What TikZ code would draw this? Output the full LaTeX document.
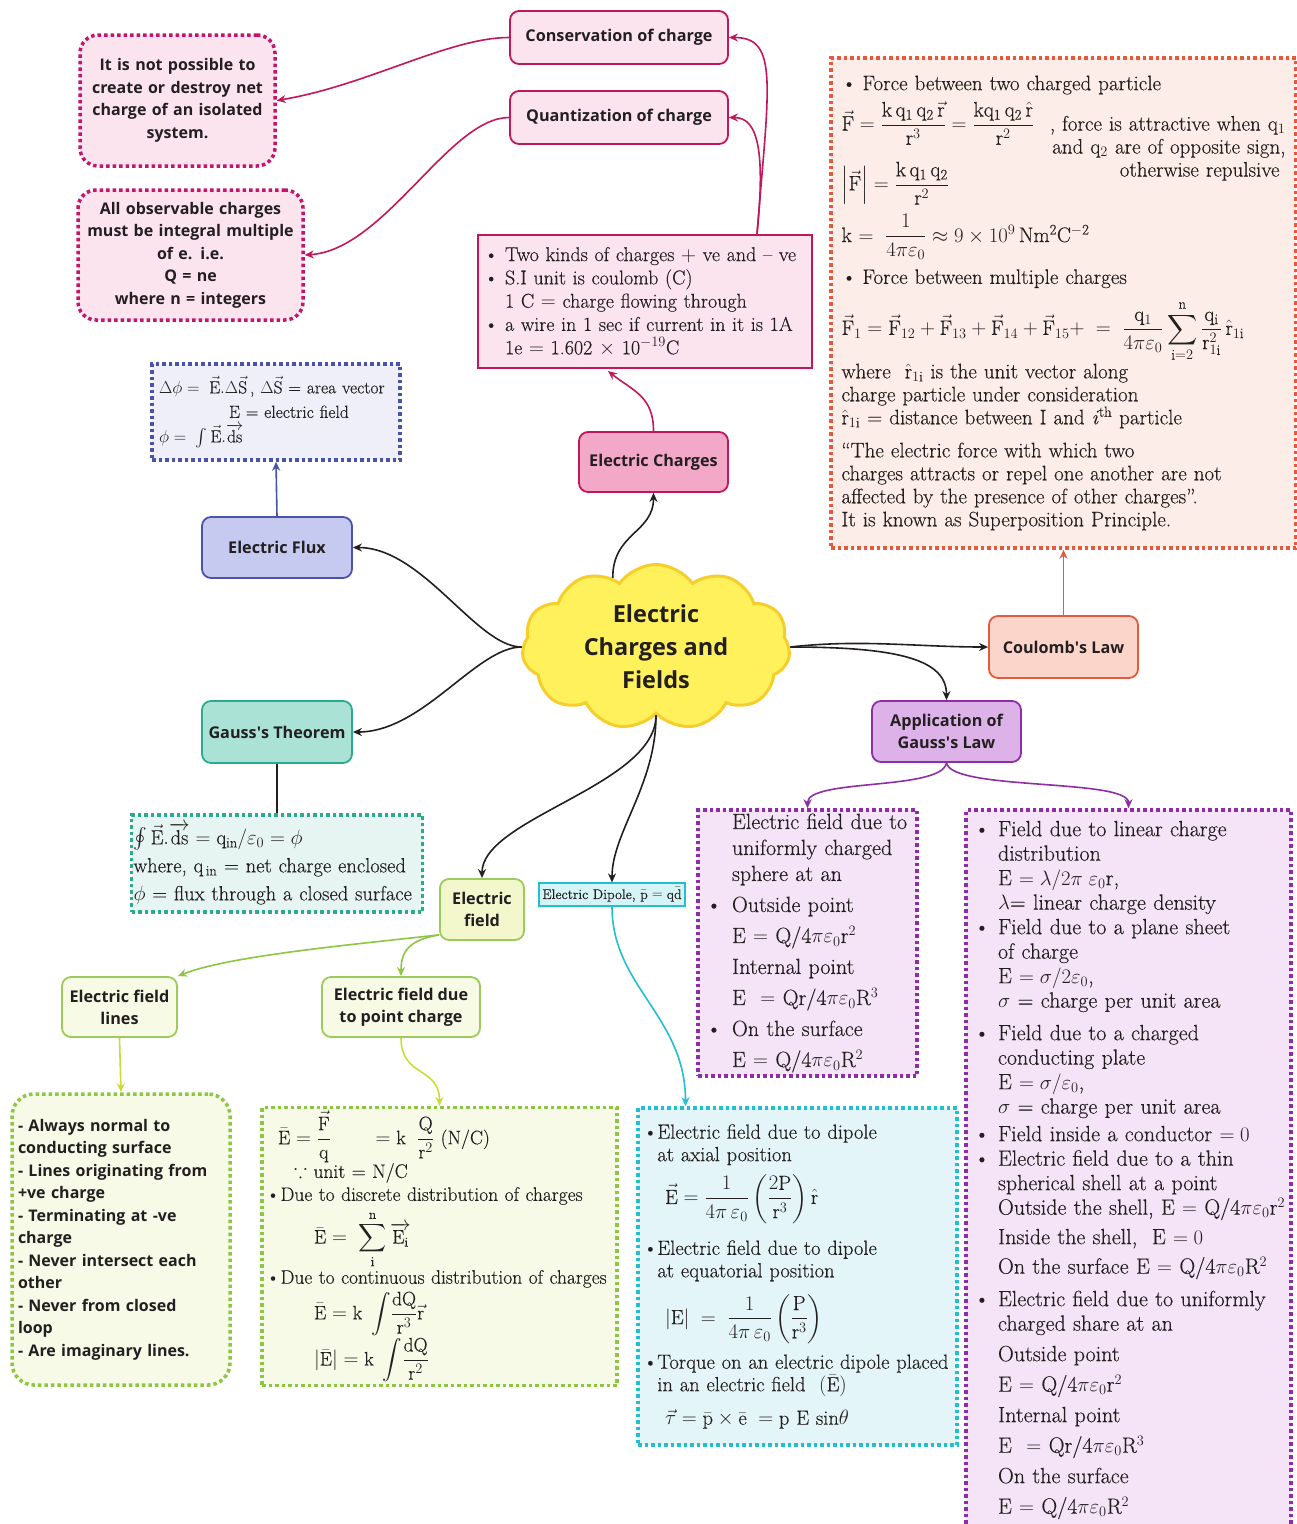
\documentclass[tikz,border=0pt]{standalone}
\usepackage{amsmath,amssymb}
\usepackage{fontspec}
\setmainfont{Latin Modern Roman}[FakeBold=0.3]
\setsansfont{Open Sans}
\usetikzlibrary{shapes.symbols, arrows.meta, calc}
\usepackage{xcolor}
\definecolor{ink}{HTML}{231F20}
\definecolor{chgline}{HTML}{C2185B}
\definecolor{chgfill}{HTML}{FCE4EE}
\definecolor{chgmid}{HTML}{F4A8C8}
\definecolor{chgdots}{HTML}{C4146C}
\definecolor{coulline}{HTML}{E55A3C}
\definecolor{coulfill}{HTML}{FCD5CA}
\definecolor{coulnote}{HTML}{FDEDE8}
\definecolor{fluxline}{HTML}{4A53AA}
\definecolor{fluxfill}{HTML}{C6C9F0}
\definecolor{fluxnote}{HTML}{EEEFF9}
\definecolor{gaussline}{HTML}{2BAA90}
\definecolor{gaussfill}{HTML}{AAE2D6}
\definecolor{gaussnote}{HTML}{E7F5F2}
\definecolor{fieldline}{HTML}{9ACB5C}
\definecolor{fieldfill}{HTML}{F2F8CB}
\definecolor{fieldsub}{HTML}{F7FBE6}
\definecolor{fielddots}{HTML}{8DC63F}
\definecolor{fieldnote}{HTML}{F6FAE7}
\definecolor{fieldarrow}{HTML}{C9DD3A}
\definecolor{dipline}{HTML}{22BFCE}
\definecolor{dipfill}{HTML}{D5F4F7}
\definecolor{dipnote}{HTML}{E3F5F8}
\definecolor{appline}{HTML}{8E2DA6}
\definecolor{appfill}{HTML}{DDB2E8}
\definecolor{appnote}{HTML}{F5E3F7}
\definecolor{corefill}{HTML}{FFF15C}
\definecolor{coreline}{HTML}{F6CE2C}
\newcommand{\bitem}[1][1em]{\makebox[#1][l]{\textbullet}}
\newcommand{\nitem}[1][1em]{\hspace*{#1}}
\newcommand{\rmv}[1]{\vec{\mathrm{#1}}}

\begin{document}
\begin{tikzpicture}[x=1pt, y=-1pt,
    topic/.style={rounded corners=9pt, line width=1.8pt, align=center, text=ink,
      font=\sffamily\bfseries\fontsize{16.2}{22}\selectfont, inner sep=2pt},
    dims/.style 2 args={minimum width=#1pt, minimum height=#2pt},
    note/.style={line width=3.5pt, dash pattern=on 3.5pt off 3pt, align=left, text=ink},
    link/.style={line width=1.6pt, -{Stealth[length=9pt,width=8pt]}}]
  \fill[white] (0,0) rectangle (1297,1524);
  \useasboundingbox (0,0) rectangle (1297,1524);

  % electric charges branch
  \node[topic, fill=chgfill, draw=chgline, dims={218}{53}] (cons) at (619,37.5) {Conservation of charge};
  \node[topic, fill=chgfill, draw=chgline, dims={218}{53}] (quant) at (619,117.5) {Quantization of charge};
  \node[note, rounded corners=18pt, draw=chgdots, fill=chgfill, align=center, text width=185pt, dims={195}{131},
    font=\sffamily\bfseries\fontsize{16}{22.5}\selectfont] (notecons) at (177.5,100.5)
    {It is not possible to\\create or destroy net\\charge of an isolated\\system.};
  \node[note, rounded corners=18pt, draw=chgdots, fill=chgfill, align=center, text width=218pt, dims={225}{130},
    font=\sffamily\bfseries\fontsize{16}{22.5}\selectfont] (notequant) at (190.5,255)
    {All observable charges\\must be integral multiple\\of e. i.e.\\Q = ne\\where n = integers};
  \node[draw=chgline, line width=2pt, fill=chgfill, text=ink, align=left, text width=322pt, inner xsep=6pt,
    dims={334}{133}, font=\fontsize{20}{23.3}\selectfont] (info) at (645,301.5)
    {\textbullet\ Two kinds of charges $+$ ve and -- ve\\
     \textbullet\ S.I unit is coulomb (C)\\
     \phantom{\textbullet}\ 1 C $=$ charge flowing through\\
     \textbullet\ a wire in 1 sec if current in it is 1A\\
     \phantom{\textbullet}\ 1e $=$ 1.602 $\times$ 10$^{-19}$C};
  \node[topic, fill=chgmid, draw=chgline, dims={149}{60}] (charges) at (653.5,462) {Electric Charges};

  % coulomb's law
  \node[note, draw=coulline, fill=coulnote, text width=444pt, inner xsep=10pt, dims={465}{490},
    font=\fontsize{21}{23}\selectfont] (coulnote) at (1063.5,303)
    {\bitem Force between two charged particle\\[6pt]
     $\rmv F=\dfrac{\mathrm{k\,q_1\,q_2}\,\rmv r}{\mathrm r^3}=\dfrac{\mathrm{kq_1\,q_2}\,\hat{\mathrm r}}{\mathrm r^2}$\hfill
     \smash{\begin{tabular}[t]{@{}r@{}}, force is attractive when q$_1$\\ and q$_2$ are of opposite sign,\\ otherwise repulsive\hspace*{6pt}\end{tabular}}\\[16pt]
     $\left|\rmv F\right|=\dfrac{\mathrm{k\,q_1\,q_2}}{\mathrm r^2}$\\[9pt]
     k $=\;\dfrac{1}{4\pi\varepsilon_0}\approx9\times10^9\,\mathrm{Nm^2C^{-2}}$\\[9pt]
     \bitem Force between multiple charges\\[11pt]
     $\rmv F_1=\rmv F_{12}+\rmv F_{13}+\rmv F_{14}+\rmv F_{15}+\;=\;\dfrac{\mathrm q_1}{4\pi\varepsilon_0}\displaystyle\sum_{\mathrm i=2}^{\mathrm n}\frac{\mathrm q_{\mathrm i}}{\mathrm r_{1\mathrm i}^2}\,\hat{\mathrm r}_{1\mathrm i}$\\[1pt]
     where \ $\hat{\mathrm r}_{1\mathrm i}$ is the unit vector along\\
     charge particle under consideration\\
     $\hat{\mathrm r}_{1\mathrm i}$ = distance between I and \textit{i}\textsuperscript{th} particle\\[10pt]
     ``The electric force with which two\\
     charges attracts or repel one another are not\\
     affected by the presence of other charges''.\\
     It is known as Superposition Principle.};
  \node[topic, fill=coulfill, draw=coulline, dims={149}{62}] (coulomb) at (1063.5,647) {Coulomb\textquotesingle s Law};

  % centre
  \node[cloud, cloud puffs=11, cloud puff arc=110, aspect=1.6, fill=corefill, draw=coreline, line width=3pt,
    minimum width=268pt, minimum height=165pt, align=center, text=ink, inner sep=0pt,
    font=\sffamily\bfseries\fontsize{23.5}{33}\selectfont] (core) at (656,647) {Electric\\Charges and\\Fields};

  % flux and gauss
  \node[topic, fill=fluxfill, draw=fluxline, dims={150}{61}] (flux) at (277,547.5) {Electric Flux};
  \node[note, draw=fluxline, fill=fluxnote, text width=234pt, inner xsep=7pt, dims={248}{96},
    font=\fontsize{17.5}{24.5}\selectfont] (fluxnote) at (276,412)
    {$\Delta\phi=\;\rmv E.\Delta\rmv S$\,, $\Delta\rmv S$ = area vector\\
     \hspace*{70pt}E = electric field\\
     $\phi=\;\int\rmv E.\overrightarrow{\mathrm{ds}}$};
  \node[topic, fill=gaussfill, draw=gaussline, dims={150}{62}] (gauss) at (277,732) {Gauss\textquotesingle s Theorem};
  \node[note, draw=gaussline, fill=gaussnote, text width=287pt, inner xsep=2pt, dims={291}{97},
    font=\fontsize{20.5}{28}\selectfont] (gaussnote) at (277,863.5)
    {$\oint\rmv E.\overrightarrow{\mathrm{ds}}=\mathrm q_{\mathrm{in}}/\varepsilon_0=\phi$\\
     where, q$_{\,\mathrm{in}}$ = net charge enclosed\\
     $\phi$ = flux through a closed surface};

  % application of gauss's law
  \node[topic, fill=appfill, draw=appline, dims={149}{61}] (app) at (946.5,731.5) {Application of\\Gauss\textquotesingle s Law};
  \node[note, draw=appline, fill=appnote, text width=203pt, inner xsep=8pt, dims={219}{266},
    font=\fontsize{22}{26}\selectfont] (spherenote) at (807.5,943)
    {\nitem[26pt]Electric field due to\\
     \nitem[26pt]uniformly charged\\
     \nitem[26pt]sphere at an\\[5pt]
     \bitem[26pt]Outside point\\[5pt]
     \nitem[26pt]E $=$ Q/4$\pi\varepsilon_0$r$^2$\\[5pt]
     \nitem[26pt]Internal point\\[5pt]
     \nitem[26pt]E \ $=$ Qr/4$\pi\varepsilon_0$R$^3$\\[5pt]
     \bitem[26pt]On the surface\\[5pt]
     \nitem[26pt]E $=$ Q/4$\pi\varepsilon_0$R$^2$};
  \node[note, draw=appline, fill=appnote, text width=309pt, inner xsep=8pt, dims={325}{720},
    font=\fontsize{22}{24.5}\selectfont] (rightnote) at (1128.5,1170)
    {\bitem[24pt]Field due to linear charge\\
     \nitem[24pt]distribution\\
     \nitem[24pt]E $=\lambda/2\pi\;\varepsilon_0$r,\\
     \nitem[24pt]$\lambda$= linear charge density\\
     \bitem[24pt]Field due to a plane sheet\\
     \nitem[24pt]of charge\\
     \nitem[24pt]E $=\sigma/2\varepsilon_0$,\\
     \nitem[24pt]$\sigma$ = charge per unit area\\[8pt]
     \bitem[24pt]Field due to a charged\\
     \nitem[24pt]conducting plate\\
     \nitem[24pt]E $=\sigma/\varepsilon_0$,\\
     \nitem[24pt]$\sigma$ = charge per unit area\\[3pt]
     \bitem[24pt]Field inside a conductor $=0$\\
     \bitem[24pt]Electric field due to a thin\\
     \nitem[24pt]spherical shell at a point\\
     \nitem[24pt]\mbox{Outside the shell, E $=$ Q/4$\pi\varepsilon_0$r$^2$}\\[5pt]
     \nitem[24pt]Inside the shell,\ \ E $=0$\\[5pt]
     \nitem[24pt]On the surface E $=$ Q/4$\pi\varepsilon_0$R$^2$\\[8pt]
     \bitem[24pt]Electric field due to uniformly\\
     \nitem[24pt]charged share at an\\[6pt]
     \nitem[24pt]Outside point\\[6pt]
     \nitem[24pt]E $=$ Q/4$\pi\varepsilon_0$r$^2$\\[6pt]
     \nitem[24pt]Internal point\\[6pt]
     \nitem[24pt]E \ $=$ Qr/4$\pi\varepsilon_0$R$^3$\\[6pt]
     \nitem[24pt]On the surface\\[6pt]
     \nitem[24pt]E $=$ Q/4$\pi\varepsilon_0$R$^2$};

  % electric field branch
  \node[topic, fill=fieldfill, draw=fieldline, dims={84}{61}] (efield) at (482,909.5) {Electric\\field};
  \node[draw=dipline, line width=1.2pt, fill=dipfill, text=ink, dims={146}{23}, inner sep=1pt,
    font=\fontsize{14}{15}\selectfont] (dipole) at (612,894.5) {Electric Dipole, $\bar{\mathrm p}=\mathrm q\bar{\mathrm d}$};
  \node[topic, fill=fieldsub, draw=fieldline, dims={115}{60}] (lines) at (119.5,1007) {Electric field\\lines};
  \node[topic, fill=fieldsub, draw=fieldline, dims={158}{60}] (point) at (401,1007) {Electric field due\\to point charge};
  \node[note, rounded corners=22pt, draw=fielddots, fill=fieldnote, text width=206pt, inner xsep=6pt, dims={218}{291},
    font=\sffamily\bfseries\fontsize{16}{22.5}\selectfont] (linesnote) at (121,1239.5)
    {- Always normal to\\ conducting surface\\ - Lines originating from\\ +ve charge\\ - Terminating at -ve\\
     charge\\ - Never intersect each\\ other\\ - Never from closed\\ loop\\ - Are imaginary lines.};
  \node[note, draw=fielddots, fill=fieldnote, text width=347pt, inner xsep=4pt, dims={355}{277},
    font=\fontsize{19.5}{23}\selectfont] (pointnote) at (439.5,1246.5)
    {\hspace*{12pt}$\bar{\mathrm E}=\dfrac{\rmv F}{\mathrm q}\qquad=\mathrm k\;\;\dfrac{\mathrm Q}{\mathrm r^2}$ (N/C)\\
     \hspace*{28pt}$\because$ unit = N/C\\
     \bitem[0.75em]Due to discrete distribution of charges\\[5pt]
     \hspace*{48pt}$\bar{\mathrm E}=\;\displaystyle\sum_{\mathrm i}^{\mathrm n}\overrightarrow{\mathrm E_{\mathrm i}}$\\[1pt]
     \bitem[0.75em]Due to continuous distribution of charges\\[3pt]
     \hspace*{48pt}$\bar{\mathrm E}=\mathrm k\;\displaystyle\int\!\frac{\mathrm{dQ}}{\mathrm r^3}\vec{\mathrm r}$\\[1pt]
     \hspace*{48pt}$\left|\bar{\mathrm E}\right|=\mathrm k\;\displaystyle\int\!\frac{\mathrm{dQ}}{\mathrm r^2}$};
  \node[note, draw=dipline, fill=dipnote, text width=309pt, inner xsep=5pt, dims={319}{337},
    font=\fontsize{20.5}{22.5}\selectfont] (dipnote) at (797.5,1276.5)
    {\bitem[0.7em]Electric field due to dipole\\
     \nitem[0.7em]at axial position\\[8pt]
     \hspace*{22pt}$\rmv E=\dfrac{1}{4\pi\,\varepsilon_0}\left(\dfrac{2\mathrm P}{\mathrm r^3}\right)\hat{\mathrm r}$\\[16pt]
     \bitem[0.7em]Electric field due to dipole\\
     \nitem[0.7em]at equatorial position\\[12pt]
     \hspace*{22pt}$|\mathrm E|\;=\;\dfrac{1}{4\pi\,\varepsilon_0}\left(\dfrac{\mathrm P}{\mathrm r^3}\right)$\\[10pt]
     \bitem[0.7em]Torque on an electric dipole placed\\
     \nitem[0.7em]in an electric field\ \ $\left(\bar{\mathrm E}\right)$\\[11pt]
     \hspace*{22pt}$\vec\tau=\bar{\mathrm p}\times\bar{\mathrm e}\;=\;$p E sin$\theta$};

  % connectors
  \draw[link, ink] (core.122) .. controls +(0,-45) and +(0,40) .. (charges.south);
  \draw[link, chgline] (charges.north) .. controls +(0,-35) and +(25,20) .. ($(info.south)+(-37,2)$);
  \draw[link, chgline] ($(info.north)+(112,0)$) .. controls +(12,-150) and +(50,0) .. (cons.east);
  \draw[link, chgline] ($(info.north)+(112,0)$) .. controls +(8,-80) and +(30,0) .. (quant.east);
  \draw[link, chgline] (cons.west) .. controls +(-60,0) and +(90,-15) .. (notecons.east);
  \draw[link, chgline] (quant.west) .. controls +(-60,0) and +(80,-5) .. (notequant.east);
  \draw[link, ink] (core.west) .. controls +(-45,0) and +(70,0) .. (flux.east);
  \draw[link, ink] (core.west) .. controls +(-45,0) and +(70,0) .. (gauss.east);
  \draw[link, fluxline] (flux.north) -- (fluxnote.south);
  \draw[line width=2pt, ink] (gauss.south) -- (gaussnote.north);
  \draw[link, ink] (core.east) .. controls +(70,-8) and +(-70,0) .. (coulomb.west);
  \draw[link, ink] (core.east) .. controls +(110,0) and +(0,-40) .. (app.north);
  \draw[link, coulline] (coulomb.north) -- (coulnote.south);
  \draw[link, appline] (app.south) .. controls +(-5,28) and +(0,-30) .. (spherenote.north);
  \draw[link, appline] (app.south) .. controls +(5,28) and +(0,-30) .. (rightnote.north);
  \draw[link, ink] (core.south) .. controls +(0,70) and +(0,-60) .. (efield.north);
  \draw[link, ink] (core.south) .. controls +(0,70) and +(0,-50) .. (dipole.north);
  \draw[link, fielddots] ($(efield.south west)+(0,-6)$) .. controls +(-90,10) and +(50,-20) .. (lines.north east);
  \draw[link, fielddots] ($(efield.south west)+(0,-6)$) .. controls +(-30,5) and +(0,-25) .. (point.north);
  \draw[link, fieldarrow] (lines.south) -- (linesnote.north);
  \draw[link, fieldarrow] (point.south) .. controls +(0,40) and +(0,-40) .. (pointnote.north);
  \draw[link, dipline] (dipole.south) .. controls +(0,80) and +(0,-90) .. ($(dipnote.north)+(-112,0)$);
\end{tikzpicture}
\end{document}
